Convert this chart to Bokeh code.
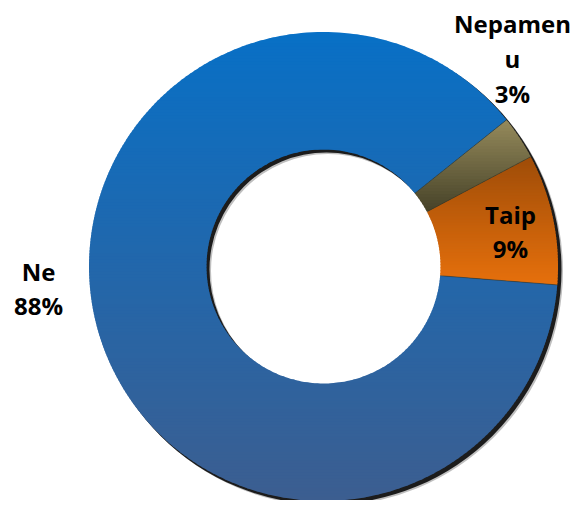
import math
from bokeh.plotting import figure
from bokeh.models import Range1d, ColumnDataSource
from bokeh.core.properties import value
from bokeh.embed import file_html
from bokeh.resources import INLINE

# ---- data ----
labels = ["Taip", "Nepamenu", "Ne"]
values = [9, 3, 88]
label_texts = ["Taip\n9%", "Nepamen\nu\n3%", "Ne\n88%"]
top_colors = [(158, 76, 8), (150, 139, 92), (8, 112, 198)]
bottom_colors = [(230, 112, 12), (70, 66, 40), (60, 94, 144)]
start_deg = -4.5

# ---- geometry (pixel-like data space, y downwards) ----
W, H = 570, 500
cx, cy = 323.0, 266.0
r_out, r_in = 234.5, 117.0

p = figure(width=W, height=H, output_backend="svg", toolbar_location=None,
           x_range=Range1d(0, W), y_range=Range1d(H, 0), min_border=0)
p.axis.visible = False
p.grid.visible = False
p.outline_line_color = None
p.background_fill_color = "white"
p.border_fill_color = "white"

total = float(sum(values))


def wedge_poly(a0, a1, n=240):
    pts = []
    for i in range(n + 1):
        a = a0 + (a1 - a0) * i / n
        pts.append((cx + r_out * math.cos(a), cy - r_out * math.sin(a)))
    for i in range(n + 1):
        a = a1 + (a0 - a1) * i / n
        pts.append((cx + r_in * math.cos(a), cy - r_in * math.sin(a)))
    return pts


def clip(poly, yv, keep_greater):
    out = []
    if not poly:
        return out
    def inside(pt):
        return pt[1] >= yv if keep_greater else pt[1] <= yv
    prev = poly[-1]
    for cur in poly:
        ci, pi = inside(cur), inside(prev)
        if ci:
            if not pi:
                t = (yv - prev[1]) / (cur[1] - prev[1])
                out.append((prev[0] + t * (cur[0] - prev[0]), yv))
            out.append(cur)
        elif pi:
            t = (yv - prev[1]) / (cur[1] - prev[1])
            out.append((prev[0] + t * (cur[0] - prev[0]), yv))
        prev = cur
    return out


# shadow
p.annulus(x=cx + 3, y=cy + 3, inner_radius=r_in, outer_radius=r_out + 0.5,
          fill_color="black", fill_alpha=0.85, line_color=None)
p.annulus(x=cx + 4.5, y=cy + 4.5, inner_radius=r_in, outer_radius=r_out + 0.5,
          fill_color="black", fill_alpha=0.25, line_color=None)

xs_all, ys_all, cols = [], [], []
bounds = []
ang = math.radians(start_deg)
for lab, v, tc, bc in zip(labels, values, top_colors, bottom_colors):
    a0 = ang
    a1 = ang + 2 * math.pi * v / total
    ang = a1
    bounds.append(a0)
    poly = wedge_poly(a0, a1)
    ymin = min(pt[1] for pt in poly)
    ymax = max(pt[1] for pt in poly)
    step = 3.0
    y = ymin
    while y < ymax:
        y2 = min(y + step, ymax)
        band = clip(clip(poly, y - 0.6, True), y2 + 0.6, False)
        if len(band) >= 3:
            t = ((y + y2) / 2 - ymin) / (ymax - ymin)
            c = tuple(int(round(tc[k] + (bc[k] - tc[k]) * t)) for k in range(3))
            xs_all.append([pt[0] for pt in band])
            ys_all.append([pt[1] for pt in band])
            cols.append("#%02x%02x%02x" % c)
        y = y2

p.patches(xs="xs", ys="ys", fill_color="c", line_color=None,
          source=ColumnDataSource(dict(xs=xs_all, ys=ys_all, c=cols)))

# thin separators between slices
sx0 = [cx + r_in * math.cos(a) for a in bounds]
sy0 = [cy - r_in * math.sin(a) for a in bounds]
sx1 = [cx + r_out * math.cos(a) for a in bounds]
sy1 = [cy - r_out * math.sin(a) for a in bounds]
p.segment(x0=sx0, y0=sy0, x1=sx1, y1=sy1, line_color="#3a3a2a", line_width=0.8, line_alpha=0.7)

# labels
lab_x = [510, 512, 38]
lab_y = [231, 58, 288]
for txt, lx, ly in zip(label_texts, lab_x, lab_y):
    p.text(x=[lx], y=[ly], text=[txt], text_font=value("Open Sans"), text_font_style="bold",
           text_font_size="24px", text_align="center", text_baseline="middle",
           text_color="black", text_line_height=1.06)

open("out.html", "w").write(file_html(p, INLINE))
